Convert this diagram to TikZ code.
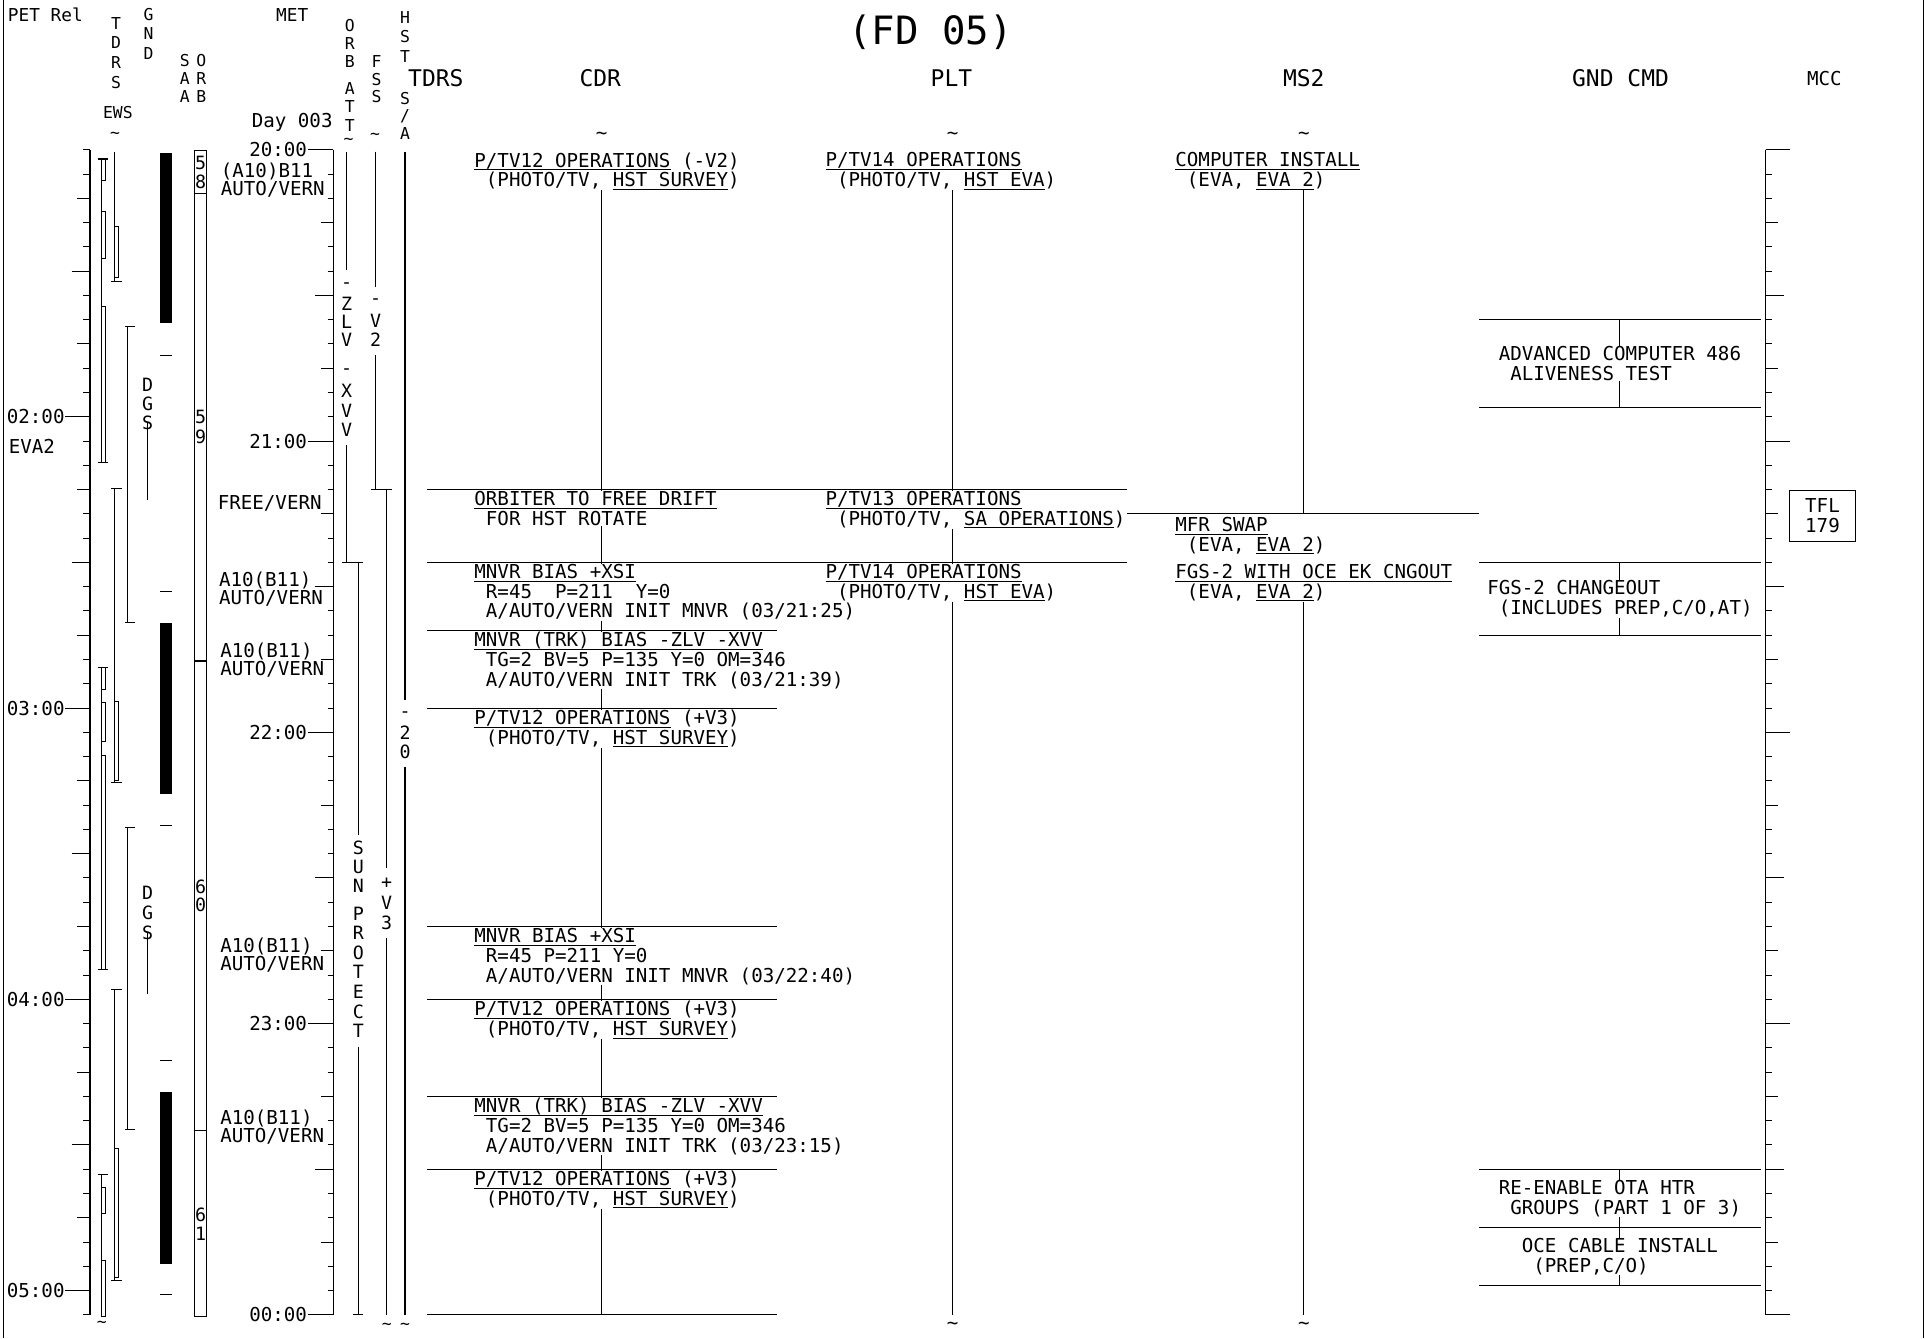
\documentclass[tikz,border=0pt]{standalone}
\usepackage{fontspec}
\setmainfont{DejaVu Sans Mono}

% y position (shown px) of a time given in minutes after MET 20:00
\newcommand\tym[1]{122+3.9542*(#1)}
% underlined run of text
\newcommand\undl[1]{\leavevmode\setbox0\hbox{#1}\rlap{\rule[-1.7pt]{\wd0}{0.55pt}}\box0\relax}
% letters stacked downwards
\newcommand\vstack[6][vlet]{\foreach \ch [count=\i] in {#6}
  \node[#1] (#5\i) at (#2,{#3+#4*(\i-1)}) {\ch};}

\begin{document}
\begin{tikzpicture}[x=0.025cm, y=-0.025cm, line width=0.6pt,
  txt/.style ={font=\fontsize{11.1}{11.4}\selectfont, inner sep=0pt},
  evt/.style ={txt, anchor=north west, align=left},
  cmd/.style ={txt, align=left},
  att/.style ={font=\fontsize{11.1}{10.4}\selectfont, inner sep=0pt, anchor=west, align=left},
  vlet/.style={font=\fontsize{9.5}{10}\selectfont, inner sep=0pt},
  sml/.style ={font=\fontsize{10.3}{11}\selectfont, inner sep=0pt},
  clet/.style={font=\fontsize{10.6}{11}\selectfont, inner sep=0pt},
  hdr/.style ={font=\fontsize{13.3}{14}\selectfont, inner sep=0pt},
  ttl/.style ={font=\fontsize{22.6}{24}\selectfont, inner sep=0pt},
  dbl/.style ={draw, line width=0.45pt},
]
\useasboundingbox (0,0) rectangle (1568,1090);
\draw (2.5,0) -- (2.5,1090);
\draw (1566.5,0) -- (1566.5,1090);

% headings
\node[ttl] (title) at (758,26) {(FD 05)};
\node[hdr] (hTDRS) at (355,64) {TDRS};
\node[hdr] (hCDR)  at (489,64) {CDR};
\node[hdr] (hPLT)  at (775,64) {PLT};
\node[hdr] (hMS2)  at (1062,64) {MS2};
\node[hdr] (hGND)  at (1320,64) {GND CMD};
\node[txt] (hMCC)  at (1486,64) {MCC};
\node[sml, anchor=west] (petrel) at (6,12) {PET Rel};
\node[sml] (met) at (238,12.5) {MET};
\node[txt] (day) at (238,100) {Day 003};
\node[vlet] (ews) at (96,92) {EWS};
\vstack{94.5}{19}{16}{tdrs}{T,D,R,S}
\vstack{121}{12.2}{15.5}{gnd}{G,N,D}
\vstack{150.5}{49}{15}{saa}{S,A,A}
\vstack{164}{49}{15}{orb}{O,R,B}
\vstack{285}{20.4}{15}{orba}{O,R,B}
\vstack{285}{72}{15}{orbt}{A,T,T}
\vstack{306.8}{50}{14.5}{fss}{F,S,S}
\vstack{329.9}{14}{16}{hst}{H,S,T}
\vstack{329.9}{80}{14.5}{hsa}{S,/,A}
\node[vlet] (tEWS) at (93.7,110) {\textasciitilde};
\node[vlet] (tORB) at (284,115) {\textasciitilde};
\node[vlet] (tFSS) at (305.5,111) {\textasciitilde};
\node[txt] (tC) at (490,111) {\textasciitilde};
\node[txt] (tP) at (776,111) {\textasciitilde};
\node[txt] (tM) at (1062,111) {\textasciitilde};

% PET axis
\draw (73.3,{\tym{0}}) -- (73.3,{\tym{240}});
\foreach \m in {0,5,...,240} \draw (67.9,{\tym{\m}}) -- (73.3,{\tym{\m}});
\foreach \m in {10,25,...,235} \draw (63,{\tym{\m}}) -- (73.3,{\tym{\m}});
\foreach \m in {25,85,145,205} \draw (58.4,{\tym{\m}}) -- (73.3,{\tym{\m}});
\foreach \m/\h in {55/02,115/03,175/04,235/05}{
  \node[txt, anchor=east] (pet\h) at (53,{\tym{\m}}) {\h:00};
  \draw (pet\h.east) -- (73.3,{\tym{\m}});
}
\node[txt, anchor=west] (eva) at (6.8,363.3) {EVA2};
\node[vlet] (tPET) at (83,1079) {\textasciitilde};

% TDRS east/west
\draw (82.3,129.5) -- (82.3,376.9);
\draw (82.3,543.8) -- (82.3,790);
\draw (82.3,956.5) -- (82.3,1072.5);
\foreach \y in {129.5,376.9,543.8,790,956.5} \draw (79.6,\y) -- (88.2,\y);
\foreach \ya/\yb in {129.5/146.6,171.9/210.4,249.8/376.9,543.8/561.5,572/604,
                     615/790,967.4/988.3,1026.3/1072.5}
  \draw[dbl] (82.3,\ya) rectangle (85.5,\yb);
\draw (93.1,123.5) -- (93.1,229.4);
\draw (93.1,397.8) -- (93.1,637);
\draw (93.1,805.6) -- (93.1,1043.4);
\foreach \y in {229.4,397.8,637,805.6,1043.4} \draw (90.4,\y) -- (99.1,\y);
\foreach \ya/\yb in {184.6/225.9,571/635.5,935.4/1040.4}
  \draw[dbl] (93.1,\ya) rectangle (96.4,\yb);

% GND
\draw (104,266) -- (104,507);
\draw (104,674) -- (104,920);
\foreach \y in {266,507,674,920} \draw (101.8,\y) -- (110,\y);
\vstack[clet]{120.3}{313.6}{15.5}{dgsa}{D,G,S}
\vstack[clet]{120.3}{727.5}{16}{dgsb}{D,G,S}
\draw (dgsa3.south) ++(0,-6) coordinate (dgA) -- (dgA |- 0,407.3);
\draw (dgsb3.south) ++(0,-6) coordinate (dgB) -- (dgB |- 0,810);

% SAA
\foreach \ya/\yb in {124.9/262.8,507.7/647,889.7/1029.6}
  \fill (130.3,\ya) rectangle (139.8,\yb);
\foreach \y in {289.7,481.9,672.3,864.2,1054.8} \draw (130.3,\y) -- (139.8,\y);

% ORB
\draw (158.8,122.7) rectangle (168.3,1072.5);
\foreach \y in {157.5,538.4,921.2} \draw (158.8,\y) -- (168.3,\y);
\vstack[clet]{163.5}{133}{15}{rva}{5,8}
\vstack[clet]{163.5}{339.4}{16.3}{rvb}{5,9}
\vstack[clet]{163.5}{722}{15}{rvc}{6,0}
\vstack[clet]{163.5}{989.7}{15}{rvd}{6,1}

% MET axis
\draw (271.5,{\tym{0}}) -- (271.5,{\tym{240}});
\foreach \m in {0,5,...,240} \draw (266.9,{\tym{\m}}) -- (271.5,{\tym{\m}});
\foreach \m in {15,45,...,225} \draw (261.5,{\tym{\m}}) -- (271.5,{\tym{\m}});
\foreach \m in {30,90,150,210} \draw (256.6,{\tym{\m}}) -- (271.5,{\tym{\m}});
\foreach \m/\h in {0/20,60/21,120/22,180/23,240/00}{
  \node[txt, anchor=east] (met\h) at (250.5,{\tym{\m}}) {\h:00};
  \draw (met\h.east) -- (271.5,{\tym{\m}});
}
\node[att] (a1) at (179.5,147)   {(A10)B11\\AUTO/VERN};
\node[att] (a2) at (177,410)     {FREE/VERN};
\node[att] (a3) at (178,480)     {A10(B11)\\AUTO/VERN};
\node[att] (a4) at (179,537.8)   {A10(B11)\\AUTO/VERN};
\node[att] (a5) at (179,778)     {A10(B11)\\AUTO/VERN};
\node[att] (a6) at (179,917.7)   {A10(B11)\\AUTO/VERN};

% ORB ATT
\draw (282.4,123.5) -- (282.4,220);
\vstack[clet]{282.4}{232.7}{14.8}{zlv}{-,Z,L,V}
\vstack[clet]{282.4}{302.7}{15.8}{xvv}{-,X,V,V}
\draw (282.4,362.5) -- (282.4,{\tym{85}});
\draw (278.3,{\tym{85}}) -- (296,{\tym{85}});
\draw (291.9,{\tym{85}}) -- (291.9,680);
\vstack[clet]{291.9}{691}{15.4}{sun}{S,U,N}
\vstack[clet]{291.9}{744}{16}{prot}{P,R,O,T,E,C,T}
\draw (291.9,852.5) -- (291.9,{\tym{240}});
\draw (287.8,{\tym{240}}) -- (296,{\tym{240}});

% FSS
\draw (306,123.5) -- (306,233.5);
\vstack[clet]{306}{245.7}{15.4}{vtwo}{-,V,2}
\draw (306,289.2) -- (306,{\tym{70}});
\draw (302.2,{\tym{70}}) -- (319,{\tym{70}});
\draw (315,{\tym{70}}) -- (315,707.3);
\vstack[clet]{315}{719.5}{15.9}{vthr}{+,V,3}
\draw (315,764.3) -- (315,{\tym{240}});
\node[vlet] (tFSSb) at (315,1080.6) {\textasciitilde};

% HST S/A
\draw (329.9,123.5) -- (329.9,570);
\vstack[clet]{329.9}{581.8}{15.3}{twz}{-,2,0}
\draw (329.9,624.5) -- (329.9,{\tym{240}});
\node[vlet] (tHSTb) at (330,1080.6) {\textasciitilde};

% CDR / PLT separators
\foreach \m in {70,85} \draw (348,{\tym{\m}}) -- (918,{\tym{\m}});
\foreach \m in {99,115,160,175,195,210,240} \draw (348,{\tym{\m}}) -- (633,{\tym{\m}});
\draw (918,{\tym{75}}) -- (1205,{\tym{75}});
\foreach \m in {35,53,85,100,210,222,234} \draw (1205,{\tym{\m}}) -- (1434,{\tym{\m}});

\coordinate (lnC) at (490,0);
\coordinate (lnP) at (776,0);
\coordinate (lnM) at (1062,0);
\coordinate (endC) at (490,{\tym{240}});
\coordinate (endP) at (776,{\tym{240}});
\coordinate (endM) at (1062,{\tym{240}});
\coordinate (kM75) at (1062,{\tym{75}});

% CDR
\node[evt] (c1) at (386,124) {\undl{P/TV12 OPERATIONS} (-V2)\\~(PHOTO/TV, \undl{HST SURVEY})};
\node[evt] (c2) at (386,{\tym{70}+1.2}) {\undl{ORBITER TO FREE DRIFT}\\~FOR HST ROTATE};
\node[evt] (c3) at (386,{\tym{85}+1.2}) {\undl{MNVR BIAS +XSI}\\~R=45~~P=211~~Y=0\\~A/AUTO/VERN INIT MNVR (03/21:25)};
\node[evt] (c4) at (386,{\tym{99}+1.2}) {\undl{MNVR (TRK) BIAS -ZLV -XVV}\\~TG=2 BV=5 P=135 Y=0 OM=346\\~A/AUTO/VERN INIT TRK (03/21:39)};
\node[evt] (c5) at (386,{\tym{115}+1.2}) {\undl{P/TV12 OPERATIONS} (+V3)\\~(PHOTO/TV, \undl{HST SURVEY})};
\node[evt] (c6) at (386,{\tym{160}+1.2}) {\undl{MNVR BIAS +XSI}\\~R=45 P=211 Y=0\\~A/AUTO/VERN INIT MNVR (03/22:40)};
\node[evt] (c7) at (386,{\tym{175}+1.2}) {\undl{P/TV12 OPERATIONS} (+V3)\\~(PHOTO/TV, \undl{HST SURVEY})};
\node[evt] (c8) at (386,{\tym{195}+1.2}) {\undl{MNVR (TRK) BIAS -ZLV -XVV}\\~TG=2 BV=5 P=135 Y=0 OM=346\\~A/AUTO/VERN INIT TRK (03/23:15)};
\node[evt] (c9) at (386,{\tym{210}+1.2}) {\undl{P/TV12 OPERATIONS} (+V3)\\~(PHOTO/TV, \undl{HST SURVEY})};
\draw (c1.south -| lnC) -- (c2.north -| lnC);
\draw (c2.south -| lnC) -- (c3.north -| lnC);
\draw (c3.south -| lnC) -- (c4.north -| lnC);
\draw (c4.south -| lnC) -- (c5.north -| lnC);
\draw (c5.south -| lnC) -- (c6.north -| lnC);
\draw (c6.south -| lnC) -- (c7.north -| lnC);
\draw (c7.south -| lnC) -- (c8.north -| lnC);
\draw (c8.south -| lnC) -- (c9.north -| lnC);
\draw (c9.south -| lnC) -- (endC);

% PLT
\node[evt] (p1) at (672,124) {\undl{P/TV14 OPERATIONS}\\~(PHOTO/TV, \undl{HST EVA})};
\node[evt] (p2) at (672,{\tym{70}+1.2}) {\undl{P/TV13 OPERATIONS}\\~(PHOTO/TV, \undl{SA OPERATIONS})};
\node[evt] (p3) at (672,{\tym{85}+1.2}) {\undl{P/TV14 OPERATIONS}\\~(PHOTO/TV, \undl{HST EVA})};
\draw (p1.south -| lnP) -- (p2.north -| lnP);
\draw (p2.south -| lnP) -- (p3.north -| lnP);
\draw (p3.south -| lnP) -- (endP);
\node[txt] (bP) at (776,1080) {\textasciitilde};

% MS2
\node[evt] (s1) at (957,124) {\undl{COMPUTER INSTALL}\\~(EVA, \undl{EVA 2})};
\node[evt] (s2) at (957,421) {\undl{MFR SWAP}\\~(EVA, \undl{EVA 2})};
\node[evt] (s3) at (957,{\tym{85}+1.2}) {\undl{FGS-2 WITH OCE EK CNGOUT}\\~(EVA, \undl{EVA 2})};
\draw (s1.south -| lnM) -- (kM75);
\draw (s3.south -| lnM) -- (endM);
\node[txt] (bM) at (1062,1080) {\textasciitilde};

% GND CMD
\node[cmd] (g1) at (1319.5,{\tym{44}}) {ADVANCED COMPUTER 486\\~ALIVENESS TEST};
\node[cmd] (g2) at (1319.5,{\tym{92.5}}) {FGS-2 CHANGEOUT\\~(INCLUDES PREP,C/O,AT)};
\node[cmd] (g3) at (1319.5,{\tym{216}}) {RE-ENABLE OTA HTR\\~GROUPS (PART 1 OF 3)};
\node[cmd] (g4) at (1319.5,{\tym{228}}) {OCE CABLE INSTALL\\~(PREP,C/O)};
\draw (1319.5,{\tym{35}}) -- (g1.north);
\draw (g1.south) -- (1319.5,{\tym{53}});
\draw (1319.5,{\tym{85}}) -- (g2.north);
\draw (g2.south) -- (1319.5,{\tym{100}});
\draw (1319.5,{\tym{210}}) -- (g3.north);
\draw (g3.south) -- (g4.north);
\draw (g4.south) -- (1319.5,{\tym{234}});

% MCC
\draw (1438.2,{\tym{0}}) -- (1438.2,{\tym{240}});
\foreach \m in {0,5,...,240} \draw (1438.2,{\tym{\m}}) -- (1443.5,{\tym{\m}});
\foreach \m in {15,45,...,225} \draw (1438.2,{\tym{\m}}) -- (1448,{\tym{\m}});
\foreach \m in {30,90,150,210} \draw (1438.2,{\tym{\m}}) -- (1453,{\tym{\m}});
\foreach \m in {0,60,...,240} \draw (1438.2,{\tym{\m}}) -- (1458,{\tym{\m}});
\node[txt, draw, align=center, minimum width=1.335cm, minimum height=1.04cm] (tfl) at (1484.5,420) {TFL\\179};
\end{tikzpicture}
\end{document}
